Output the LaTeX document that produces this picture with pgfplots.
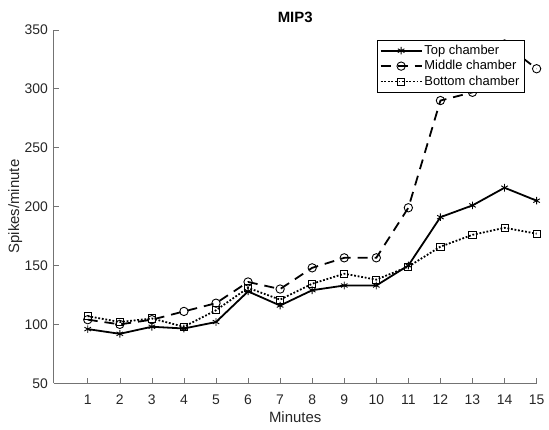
\documentclass[border=0pt]{standalone}
\usepackage{fontspec}
\setmainfont{Liberation Sans}
\usepackage{pgfplots}
\pgfplotsset{compat=1.18}
\definecolor{axgray}{gray}{0.45}
\begin{document}
\fontsize{14}{16}\selectfont
\begin{tikzpicture}
\begin{axis}[
  scale only axis,
  width=485pt, height=355pt,
  xmin=-0.06, xmax=15, ymin=50, ymax=350,
  xtick={1,...,15}, ytick={50,100,...,350},
  axis x line*=bottom, axis y line*=left,
  axis line style={axgray, line width=0.6pt},
  tick style={axgray, line width=0.6pt},
  tick align=inside, major tick length=5pt,
  /pgf/number format/assume math mode=true,
  ticklabel style={font=\fontsize{14}{16}\selectfont, text=black!85},
  xticklabel style={yshift=-7pt},
  yticklabel style={xshift=-1pt},
  label style={font=\fontsize{15}{17}\selectfont, text=black!85},
  xlabel={Minutes}, ylabel={Spikes/minute},
  xlabel style={yshift=3pt},
  ylabel style={yshift=-7pt},
  title={\bfseries MIP3},
  title style={font=\fontsize{15}{17}\selectfont, yshift=-4pt},
  clip=false,
  legend style={at={(0.975,0.972)}, anchor=north east, draw=black,
    font=\fontsize{13}{15}\selectfont, inner sep=3pt, row sep=0pt, cells={anchor=west}},
  legend cell align=left,
  legend image code/.code={
    \draw[mark repeat=2, mark phase=2, #1] plot coordinates {(0cm,0cm) (0.72cm,0cm) (1.44cm,0cm)};
  },
]
\addplot[black, line width=1.8pt, mark=asterisk, mark size=3.8pt, mark options={solid, line width=0.9pt}]
  coordinates {(1,96) (2,92) (3,98) (4,96.5) (5,102) (6,128) (7,116) (8,129) (9,133) (10,133) (11,150) (12,191) (13,201) (14,216) (15,205)};
\addlegendentry{Top chamber}
\addplot[black, line width=1.8pt, dash pattern=on 10pt off 7pt, mark=o, mark size=4.2pt, mark options={solid, line width=0.9pt, fill=none}]
  coordinates {(1,104) (2,100) (3,104) (4,111) (5,118) (6,136) (7,130) (8,148) (9,156.5) (10,156.5) (11,199) (12,290) (13,297) (14,338) (15,317)};
\addlegendentry{Middle chamber}
\addplot[black, line width=1.8pt, dash pattern=on 1.8pt off 1.8pt, mark=square, mark size=3.6pt, mark options={solid, line width=0.9pt, fill=none}]
  coordinates {(1,107) (2,102) (3,105) (4,98) (5,112) (6,131) (7,121) (8,134.5) (9,143) (10,138) (11,149) (12,166) (13,176) (14,182) (15,177)};
\addlegendentry{Bottom chamber}
\end{axis}
\path (current axis.south west) ++(-54pt,-46pt) coordinate (bbA);
\path (current axis.north east) ++(10pt,30pt) coordinate (bbB);
\path (bbA) (bbB);
\end{tikzpicture}
\end{document}
